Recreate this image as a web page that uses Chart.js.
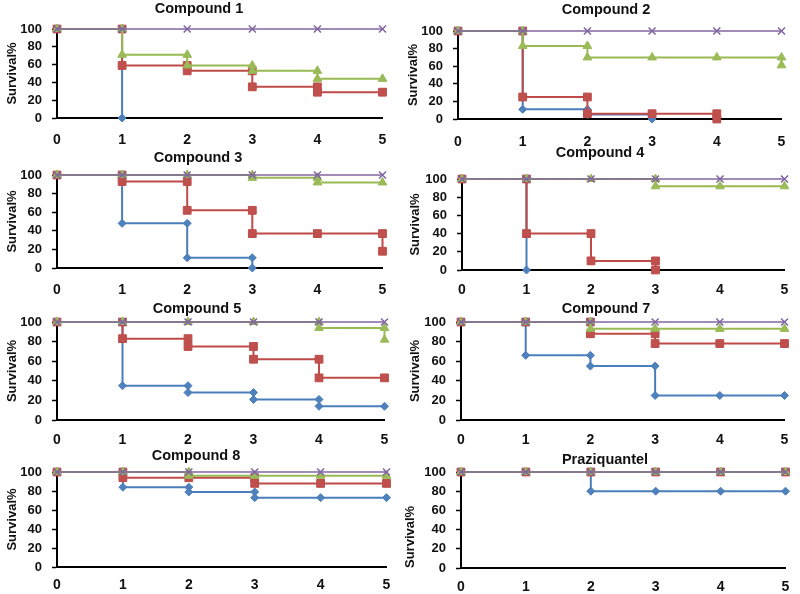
<!DOCTYPE html>
<html><head><meta charset="utf-8">
<script src="https://cdn.jsdelivr.net/npm/chart.js@4/dist/chart.umd.min.js"></script>
<style>
html,body{margin:0;padding:0;background:#fff;width:800px;height:594px;overflow:hidden;position:relative}
canvas{position:absolute}
</style></head><body>
<script>
// ---------------- DATA ----------------
const panelTitles = ['Compound 1','Compound 2','Compound 3','Compound 4','Compound 5','Compound 7','Compound 8','Praziquantel'];
const seriesNames = ['Series 1','Series 2','Series 3','Series 4'];
const yAxisTitle = 'Survival%';
const dayTicks = [0,1,2,3,4,5];
const survivalTicks = [0,20,40,60,80,100];

// [day, survival%] points of each Kaplan-Meier step curve
const c1_blue   = [[0,100],[1,100],[1,0]];
const c1_red    = [[0,100],[1,100],[1,59],[2,59],[2,53],[3,53],[3,35],[4,35],[4,29],[5,29]];
const c1_green  = [[0,100],[1,100],[1,71],[2,71],[2,59],[3,59],[3,53],[4,53],[4,44],[5,44]];
const c1_purple = [[0,100],[1,100],[2,100],[3,100],[4,100],[5,100]];

const c2_blue   = [[0,100],[1,100],[1,11],[2,11],[2,5],[3,5],[3,0]];
const c2_red    = [[0,100],[1,100],[1,25],[2,25],[2,6],[3,6],[4,6],[4,0]];
const c2_green  = [[0,100],[1,100],[1,83],[2,83],[2,70],[3,70],[4,70],[5,70],[5,61]];
const c2_purple = [[0,100],[1,100],[2,100],[3,100],[4,100],[5,100]];

const c3_blue   = [[0,100],[1,100],[1,48],[2,48],[2,11],[3,11],[3,0]];
const c3_red    = [[0,100],[1,100],[1,93],[2,93],[2,62],[3,62],[3,37],[4,37],[5,37],[5,18]];
const c3_green  = [[0,100],[1,100],[2,100],[3,100],[3,97],[4,97],[4,92],[5,92]];
const c3_purple = [[0,100],[1,100],[2,100],[3,100],[4,100],[5,100]];

const c4_blue   = [[0,100],[1,100],[1,0]];
const c4_red    = [[0,100],[1,100],[1,40],[2,40],[2,10],[3,10],[3,0]];
const c4_green  = [[0,100],[1,100],[2,100],[3,100],[3,92],[4,92],[5,92]];
const c4_purple = [[0,100],[1,100],[2,100],[3,100],[4,100],[5,100]];

const c5_blue   = [[0,100],[1,100],[1,35],[2,35],[2,28],[3,28],[3,21],[4,21],[4,14],[5,14]];
const c5_red    = [[0,100],[1,100],[1,83],[2,83],[2,75],[3,75],[3,62],[4,62],[4,43],[5,43]];
const c5_green  = [[0,100],[1,100],[2,100],[3,100],[4,100],[4,94],[5,94],[5,82]];
const c5_purple = [[0,100],[1,100],[2,100],[3,100],[4,100],[5,100]];

const c7_blue   = [[0,100],[1,100],[1,66],[2,66],[2,55],[3,55],[3,25],[4,25],[5,25]];
const c7_red    = [[0,100],[1,100],[2,100],[2,88],[3,88],[3,78],[4,78],[5,78]];
const c7_green  = [[0,100],[1,100],[2,100],[2,93],[3,93],[4,93],[5,93]];
const c7_purple = [[0,100],[1,100],[2,100],[3,100],[4,100],[5,100]];

const c8_blue   = [[0,100],[1,100],[1,84],[2,84],[2,79],[3,79],[3,73],[4,73],[5,73]];
const c8_red    = [[0,100],[1,100],[1,94],[2,94],[3,94],[3,88],[4,88],[5,88]];
const c8_green  = [[0,100],[1,100],[2,100],[2,96],[3,96],[4,96],[5,96]];
const c8_purple = [[0,100],[1,100],[2,100],[3,100],[4,100],[5,100]];

const pz_blue   = [[0,100],[1,100],[2,100],[2,80],[3,80],[4,80],[5,80]];
const pz_red    = [[0,100],[1,100],[2,100],[3,100],[4,100],[5,100]];
const pz_green  = [[0,100],[1,100],[2,100],[3,100],[4,100],[5,100]];
const pz_purple = [[0,100],[1,100],[2,100],[3,100],[4,100],[5,100]];

const panelSeries = [
  [c1_blue,c1_red,c1_green,c1_purple],
  [c2_blue,c2_red,c2_green,c2_purple],
  [c3_blue,c3_red,c3_green,c3_purple],
  [c4_blue,c4_red,c4_green,c4_purple],
  [c5_blue,c5_red,c5_green,c5_purple],
  [c7_blue,c7_red,c7_green,c7_purple],
  [c8_blue,c8_red,c8_green,c8_purple],
  [pz_blue,pz_red,pz_green,pz_purple]
];

// ---------------- LAYOUT / STYLE ----------------
// L: canvas left, pl/pr: plot left/right, tx/ty: title centre, pt/pb: plot top/bottom, xl: x label centre y, yt: y-title centre x
const layouts = [
  {L:0,   pl:57,  pr:387, tx:199, ty:9,   pt:29,  pb:118, xl:140, yt:12,  ya:'center'},
  {L:400, pl:458, pr:791, tx:606, ty:10,  pt:31,  pb:119, xl:142, yt:413, ya:'center'},
  {L:0,   pl:57,  pr:388, tx:198, ty:158, pt:175, pb:268, xl:290, yt:12,  ya:'center'},
  {L:400, pl:462, pr:789, tx:600, ty:153, pt:179, pb:270, xl:290, yt:415, ya:'center'},
  {L:0,   pl:57,  pr:388, tx:197, ty:309, pt:322, pb:420, xl:440, yt:12,  ya:'center'},
  {L:400, pl:461, pr:791, tx:606, ty:309, pt:322, pb:420, xl:440, yt:415, ya:'center'},
  {L:0,   pl:57,  pr:387, tx:196, ty:456, pt:472, pb:567, xl:585, yt:12,  ya:'center'},
  {L:400, pl:461, pr:791, tx:605, ty:460, pt:472, pb:568, xl:587, yt:410, ya:'start'}
];

const FAMILY = "'Liberation Sans', Arial, sans-serif";
const TEXT = '#111';
const styles = [
  {line:'#4A7EBB', fill:'#4F81BD', pointStyle:'rectRot',  r:4,   w:2,   pbw:1},
  {line:'#BE4B48', fill:'#C0504D', pointStyle:'rect',     r:5.5, w:2,   pbw:1},
  {line:'#98B954', fill:'#9BBB59', pointStyle:'triangle', r:5,   w:2,   pbw:1},
  {line:'#8064A2', fill:'#9A88B8', pointStyle:'crossRot', r:5,   w:1.5, pbw:1.5}
];

const TITLE_SIZE = 14.5, TITLE_LH = TITLE_SIZE*1.2;
const TICK_SIZE = 14, TICK_LH = TICK_SIZE*1.2;
const YTICK_SIZE = 13;
const YT_SIZE = 13, YT_LH = YT_SIZE*1.2;

layouts.forEach((p, i) => {
  const W = 400;
  const Ttrue = p.ty - TITLE_LH/2;
  const T = Math.floor(Ttrue);
  const titlePadTop = Ttrue - T;
  const titlePadBottom = p.pt - p.ty - TITLE_LH/2;
  const xPad = p.xl - p.pb - TICK_LH/2;
  const H = Math.ceil(p.pb - T + xPad + TICK_LH + 3);
  const hx = H - (p.pb - T);
  const padR = p.L + W - p.pr;
  const padL = 2*(p.tx - p.L) - W + padR;
  const yw = p.pl - p.L - padL;
  const ytPad = p.yt - (p.L + padL) - YT_LH/2;

  const cv = document.createElement('canvas');
  cv.width = W; cv.height = H;
  cv.style.left = p.L + 'px'; cv.style.top = T + 'px';
  cv.style.width = W + 'px'; cv.style.height = H + 'px';
  document.body.appendChild(cv);

  // purple first so it is drawn on top, blue last (bottom)
  const order = [3,2,1,0];
  const datasets = order.map(k => {
    const s = styles[k];
    return {
      label: seriesNames[k],
      data: panelSeries[i][k].map(([x,y]) => ({x, y})),
      borderColor: s.line,
      backgroundColor: s.fill,
      borderWidth: s.w,
      pointStyle: s.pointStyle,
      pointRadius: s.r,
      pointBackgroundColor: s.fill,
      pointBorderColor: s.line,
      pointBorderWidth: s.pbw,
      tension: 0,
      clip: false
    };
  });

  new Chart(cv, {
    type: 'line',
    data: { datasets },
    options: {
      responsive: false,
      animation: false,
      devicePixelRatio: 1,
      layout: { padding: { left: padL, right: padR, top: 0, bottom: 0 } },
      plugins: {
        legend: { display: false },
        tooltip: { enabled: false },
        title: {
          display: true, text: panelTitles[i], color: TEXT,
          font: { family: FAMILY, size: TITLE_SIZE, weight: 'bold' },
          padding: { top: titlePadTop, bottom: titlePadBottom }
        }
      },
      scales: {
        x: {
          type: 'linear', min: dayTicks[0], max: dayTicks[dayTicks.length-1],
          afterBuildTicks: (sc) => { sc.ticks = dayTicks.map(v => ({value: v})); },
          afterFit: (sc) => { sc.height = hx; },
          grid: { display: true, drawOnChartArea: false, drawTicks: false },
          border: { display: true, color: '#000', width: 2 },
          ticks: { color: TEXT, padding: xPad, maxRotation: 0, autoSkip: false,
                   font: { family: FAMILY, size: TICK_SIZE, weight: 'bold' } }
        },
        y: {
          type: 'linear', min: survivalTicks[0], max: survivalTicks[survivalTicks.length-1],
          afterBuildTicks: (sc) => { sc.ticks = survivalTicks.map(v => ({value: v})); },
          afterFit: (sc) => { sc.width = yw; },
          grid: { display: true, drawOnChartArea: false, drawTicks: true, tickLength: 5,
                  tickColor: '#000', tickWidth: 1.5 },
          border: { display: true, color: '#000', width: 2 },
          ticks: { color: TEXT, padding: 10, autoSkip: false,
                   font: { family: FAMILY, size: YTICK_SIZE, weight: 'bold' } },
          title: { display: true, text: yAxisTitle, color: TEXT, align: p.ya,
                   font: { family: FAMILY, size: YT_SIZE, weight: 'bold' },
                   padding: { top: ytPad, bottom: 0 } }
        }
      }
    }
  });
});
</script>
</body></html>
